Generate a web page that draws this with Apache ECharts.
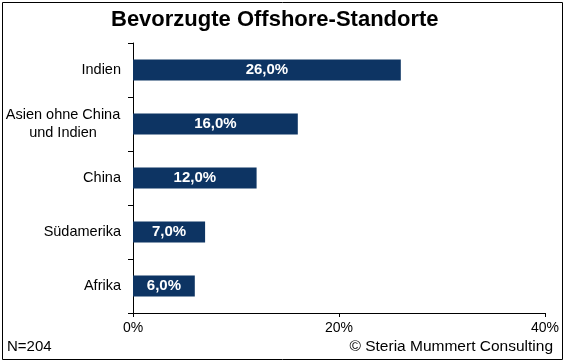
<!DOCTYPE html>
<html><head><meta charset="utf-8">
<script src="https://cdn.jsdelivr.net/npm/echarts@6/dist/echarts.min.js"></script>
<style>html,body{margin:0;padding:0;background:#fff}#c{width:566px;height:364px}</style>
</head><body><div id="c"></div>
<script>
const categories = ['Indien', 'Asien ohne China\nund Indien', 'China', 'Südamerika', 'Afrika'];
const values = [26, 16, 12, 7, 6];
const xTicks = [0, 20, 40];
const titleText = 'Bevorzugte Offshore-Standorte';
const noteLeft = 'N=204';
const noteRight = '© Steria Mummert Consulting';

const FONT = '"Liberation Sans", Arial, sans-serif';
const chart = echarts.init(document.getElementById('c'));
chart.setOption({
  animation: false,
  backgroundColor: '#fff',
  title: {
    text: titleText, left: 106, top: 4,
    textStyle: {fontFamily: FONT, fontSize: 22, fontWeight: 'bold', color: '#000'}
  },
  grid: {left: 133, right: 21, top: 43, bottom: 51},
  xAxis: {
    type: 'value', min: xTicks[0], max: xTicks[xTicks.length - 1], interval: 20,
    axisLine: {show: true, lineStyle: {color: '#000'}},
    axisTick: {show: true, length: 4, lineStyle: {color: '#000'}},
    splitLine: {show: false},
    axisLabel: {formatter: '{value}%', fontFamily: FONT, fontSize: 14, color: '#000', margin: 8}
  },
  yAxis: {
    type: 'category', data: categories, inverse: true,
    axisLine: {show: true, lineStyle: {color: '#000'}},
    axisTick: {show: true, length: 5, lineStyle: {color: '#000'}},
    axisLabel: {
      fontFamily: FONT, fontSize: 14.5, color: '#000', margin: 12, lineHeight: 18,
      formatter: v => v.indexOf('\n') >= 0 ? '{c|' + v + '}' : v,
      rich: {c: {width: 116, align: 'center', fontFamily: FONT, fontSize: 14.5, color: '#000', lineHeight: 18}}
    }
  },
  series: [{
    type: 'bar', data: values, barWidth: 21,
    itemStyle: {color: '#0d3463'},
    label: {
      show: true, position: 'inside', color: '#fff', fontFamily: FONT,
      fontSize: 15, fontWeight: 'bold',
      formatter: p => p.value.toFixed(1).replace('.', ',') + '%'
    }
  }],
  graphic: [
    {type: 'rect', shape: {x: 2.5, y: 2.5, width: 560, height: 357}, style: {fill: 'none', stroke: '#000', lineWidth: 1}},
    {type: 'text', left: 7, top: 339, style: {text: noteLeft, fontFamily: FONT, fontSize: 15, fill: '#000'}},
    {type: 'text', right: 13, top: 339, style: {text: noteRight, fontFamily: FONT, fontSize: 15.5, fill: '#000'}}
  ]
});
</script></body></html>
